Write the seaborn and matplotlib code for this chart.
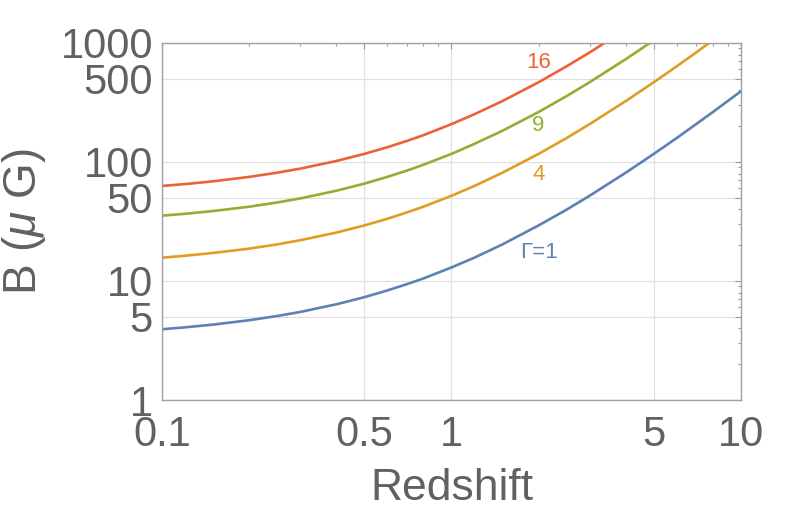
import numpy as np
import pandas as pd
import matplotlib
matplotlib.use("Agg")
import matplotlib.pyplot as plt
import matplotlib.ticker as mticker
import seaborn as sns

# redshift sample points
redshift = [0.1, 0.12, 0.15, 0.2, 0.25, 0.3, 0.4, 0.5, 0.6, 0.7, 0.8,
            1.0, 1.2, 1.5, 2.0, 2.5, 3.0, 4.0, 5.0, 6.0, 7.0, 8.0, 10.0]

# B in micro-Gauss for each curve
b_gamma1 = [3.93, 4.08, 4.30, 4.68, 5.08, 5.49, 6.37, 7.31, 8.32, 9.39, 10.5,
            13.0, 15.7, 20.3, 29.3, 39.8, 52.0, 81.3, 117, 159, 208, 263, 393]
b_gamma4 = [15.7, 16.3, 17.2, 18.7, 20.3, 22.0, 25.5, 29.3, 33.3, 37.6, 42.1,
            52.0, 62.9, 81.3, 117, 159, 208, 325, 468, 637, 832, 1053, 1573]
b_gamma9 = [35.4, 36.7, 38.7, 42.1, 45.7, 49.4, 57.3, 65.8, 74.9, 84.5, 94.8,
            117, 142, 183, 263, 358, 468, 731, 1053, 1433, 1872, 2369, 3539]
b_gamma16 = [62.9, 65.2, 68.8, 74.9, 81.3, 87.9, 101.9, 117, 133, 150, 168,
             208, 252, 325, 468, 637, 832, 1300, 1872, 2548, 3328, 4212, 6292]

curve_names = ["1", "4", "9", "16"]
curve_labels = ["\u0393=1", "4", "9", "16"]
label_y = [17.2, 79, 201, 692]
label_x = 2.0

x_ticks = [0.1, 0.5, 1, 5, 10]
x_tick_labels = ["0.1", "0.5", "1", "5", "10"]
y_ticks = [1, 5, 10, 50, 100, 500, 1000]
y_tick_labels = ["1", "5", "10", "50", "100", "500", "1000"]

colors = ["#5E81B5", "#E19C24", "#8FB032", "#EB6235"]
text_color = "#616161"

df = pd.concat([
    pd.DataFrame({"Redshift": redshift, "B": vals, "Gamma": name})
    for name, vals in zip(curve_names, [b_gamma1, b_gamma4, b_gamma9, b_gamma16])
])

sns.set_style("white")
plt.rcParams["font.family"] = ["Liberation Sans", "DejaVu Sans"]
plt.rcParams["mathtext.fontset"] = "custom"
plt.rcParams["mathtext.rm"] = "Liberation Sans"
plt.rcParams["mathtext.it"] = "Liberation Sans:italic"

fig = plt.figure(figsize=(7.89, 5.16), dpi=100)
ax = fig.add_axes([0.2053, 0.2248, 0.7338, 0.6919])

sns.lineplot(
    data=df,
    x="Redshift",
    y="B",
    hue="Gamma",
    palette=colors,
    linewidth=1.9,
    legend=False,
    ax=ax
)

ax.set_xscale("log")
ax.set_yscale("log")
ax.set_xlim(0.1, 10)
ax.set_ylim(1, 1000)

ax.set_xticks(x_ticks, x_tick_labels)
ax.set_yticks(y_ticks, y_tick_labels)
ax.xaxis.set_minor_locator(mticker.LogLocator(base=10, subs=np.arange(2, 10)))
ax.yaxis.set_minor_locator(mticker.LogLocator(base=10, subs=np.arange(2, 10)))
ax.xaxis.set_minor_formatter(mticker.NullFormatter())
ax.yaxis.set_minor_formatter(mticker.NullFormatter())

ax.tick_params(which="both", direction="in", color="#9a9a9a",
               top=True, right=True, width=0.8)
ax.tick_params(which="major", length=4.5)
ax.tick_params(which="minor", length=2.5)
ax.tick_params(axis="x", which="major", labelsize=30, labelcolor=text_color, pad=11)
ax.tick_params(axis="y", which="major", labelsize=30, labelcolor=text_color, pad=6.5)

ax.grid(True, which="major", color="#e0e0e0", linewidth=0.9)
for spine in ax.spines.values():
    spine.set_color("#a0a0a0")
    spine.set_linewidth(1.0)

ax.set_xlabel("Redshift", fontsize=32, color=text_color)
ax.set_ylabel("B ($\\mu$ G)", fontsize=33, color=text_color)
ax.xaxis.set_label_coords(0.5, -0.19)
ax.yaxis.set_label_coords(-0.197, 0.5)

for lab, yv, col in zip(curve_labels, label_y, colors):
    ax.text(label_x, yv, lab, color=col, fontsize=16,
            ha="center", va="center")

fig.savefig("out.png", dpi=100)
